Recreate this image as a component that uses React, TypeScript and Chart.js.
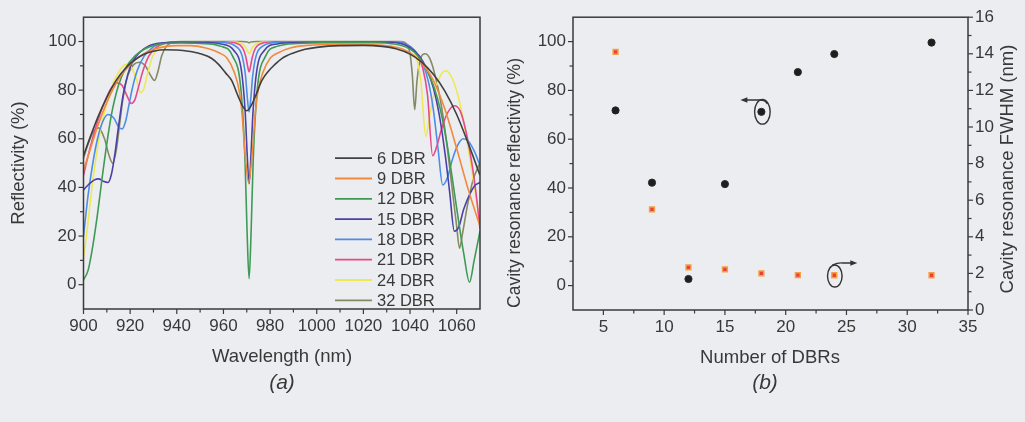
import React, { useEffect, useRef } from "react";
import { Chart, registerables } from "chart.js";
Chart.register(...registerables);

const FONT = '"Liberation Sans", Arial, sans-serif';
const TEXT = "#383838";
const AXIS = "#3a3a3a";

// ---------- Panel (a): reflectivity spectra ----------
const seriesLabels = ["6 DBR", "9 DBR", "12 DBR", "15 DBR", "18 DBR", "21 DBR", "24 DBR", "32 DBR"];
const seriesColors = ["#404040", "#f28a3c", "#3e9a55", "#4a41a8", "#4d8de6", "#e64a8a", "#ece955", "#858a62"];

const dbr6: [number, number][] = [
  [900, 53], [903, 61], [906, 68.5], [910, 77], [914, 84], [918, 89], [922, 92.5], [926, 94.8], [930, 96], [935, 96.6],
  [940, 96.5], [945, 96], [950, 95], [955, 93], [958, 90.5], [961, 87], [963.5, 84], [966.5, 77], [968.5, 73], [970, 71.5],
  [971.5, 73], [973.5, 77], [976.5, 84], [979, 87.5], [982, 90.5], [985, 93], [990, 95.3], [995, 96.8], [1000, 97.6],
  [1010, 98.3], [1020, 98.4], [1028, 98], [1034, 97], [1040, 94.8], [1045, 91.5], [1050, 86.5], [1055, 79.5], [1060, 70],
  [1065, 58], [1070, 45],
];
const dbr9: [number, number][] = [
  [900, 47], [903, 56], [906, 65], [910, 75], [915, 84.5], [920, 90.5], [925, 94.5], [930, 96.8], [935, 97.9], [940, 98.3],
  [946, 98.3], [952, 97.4], [958.5, 95.2], [961.5, 93.2], [964.8, 87], [966.8, 79.5], [968, 70], [969.3, 53.5], [970.8, 42],
  [972.3, 53.5], [973.6, 70], [974.8, 79.5], [976.8, 87], [980.1, 93.2], [983.1, 95.2], [989, 97.4], [996, 98.4],
  [1010, 98.8], [1025, 98.7], [1032, 98], [1037, 96.8], [1042, 94], [1046, 90], [1050, 84], [1055, 72], [1060, 56],
  [1065, 39], [1070, 24],
];
const dbr12: [number, number][] = [
  [900, 2], [902, 6], [904, 16], [906, 29], [908, 44], [910, 58], [912, 70], [915, 82], [918, 89], [922, 94], [926, 96.8],
  [930, 98.4], [935, 99.2], [942, 99.4], [950, 99.2], [959, 98], [964, 93.9], [967.5, 80.2], [969.25, 51.1],
  [970.1, 22.9], [971, 2.5], [971.9, 22.9], [972.75, 51.1], [974.5, 80.2], [978, 93.9], [983, 98], [992, 99.2],
  [1002, 99.5], [1025, 99.5], [1033, 99], [1038, 97.8], [1042, 95.5], [1046, 90.5], [1050, 82], [1053, 72], [1056, 57],
  [1059, 38], [1061, 25], [1063, 13], [1065.5, 1], [1067.5, 10], [1070, 22],
];
const dbr15: [number, number][] = [
  [900, 39], [902, 41], [904.5, 43], [906.5, 43.5], [908.5, 42.5], [910.5, 42], [912, 45.5], [913.5, 54], [915, 65],
  [917, 78], [919, 86.5], [921, 91.5], [924, 95.5], [928, 98.2], [933, 99.4], [940, 99.7], [952, 99.6], [959, 99],
  [964.4, 96.4], [967.7, 88.1], [969.35, 70.6], [970.2, 53.2], [971, 41.5], [971.8, 53.2], [972.65, 70.6], [974.3, 88.1],
  [977.6, 96.4], [983, 99], [992, 99.6], [1030, 99.7], [1036, 99.2], [1040, 97.5], [1044, 94], [1047, 89], [1050, 81],
  [1052.5, 70], [1055, 54], [1057, 38], [1059, 22], [1061, 24], [1063, 31], [1066, 38], [1068, 41], [1070, 42],
];
const dbr18: [number, number][] = [
  [900, 20], [902, 37], [904, 50], [906, 60], [908, 66.5], [910.5, 70], [913, 68.5], [915, 65], [916.5, 64], [918, 67],
  [919.5, 74], [921, 81], [923, 88], [926, 94], [930, 97.8], [935, 99.4], [942, 99.8], [956, 99.8], [961, 99.5],
  [965, 98.2], [968, 94.1], [969.5, 85.5], [970.25, 76.8], [971, 71], [971.75, 76.8], [972.5, 85.5], [974, 94.1],
  [977, 98.2], [981, 99.5], [988, 99.8], [1030, 99.8], [1037, 99.4], [1040, 98], [1043, 95], [1045.5, 91], [1048, 83],
  [1050, 72], [1052, 56], [1054, 41], [1056, 44], [1058, 51], [1060.5, 57.5], [1062.8, 60], [1065, 59], [1067.5, 55],
  [1070, 49],
];
const dbr21: [number, number][] = [
  [900, 45], [903, 57], [906, 67], [909, 75], [912, 81], [914.5, 83], [916.5, 82], [918.5, 78], [920.5, 74.5], [922, 76],
  [923.5, 81], [925.5, 88], [928, 94], [931, 97.5], [935, 99.3], [942, 99.9], [960, 99.9], [965.4, 99.3], [968.2, 97.4],
  [969.6, 93.7], [970.3, 90.2], [971, 87.5], [971.7, 90.2], [972.4, 93.7], [973.8, 97.4], [976.6, 99.3], [982, 99.9],
  [1032, 99.9], [1037, 99.4], [1040, 98], [1043, 95], [1045.5, 89], [1047.5, 78], [1049.7, 53], [1051.5, 57],
  [1053.5, 64], [1056, 70.5], [1059, 73.6], [1061.5, 71.5], [1064, 63], [1066.5, 50], [1068.5, 36], [1070, 23],
];
const dbr24: [number, number][] = [
  [900, 11], [901.5, 22], [903, 35], [905, 50], [907, 62], [909, 71], [911, 78], [913, 83.5], [915.5, 88], [918, 90.5],
  [920.5, 89.5], [922.5, 85], [924.5, 79], [926, 81], [927.5, 87], [929.5, 93.5], [932, 97.5], [935, 99.2], [940, 99.9],
  [963, 99.9], [966, 99.7], [968.2, 98.9], [969.6, 97.5], [970.3, 96.1], [971, 95], [971.7, 96.1], [972.4, 97.5],
  [973.8, 98.9], [976, 99.7], [979, 99.9], [1034, 99.9], [1038, 99], [1040.5, 97.5], [1042.5, 94], [1044.5, 85],
  [1046.8, 61], [1048.5, 70], [1050.5, 79], [1053, 86], [1055.5, 88], [1058, 85], [1060.5, 78], [1063, 67], [1066, 50],
  [1068, 38], [1070, 25],
];
const dbr32: [number, number][] = [
  [900, 52], [902, 58], [904, 62.5], [906.5, 64.5], [909, 60], [911, 53], [912.5, 50], [914, 55], [915.5, 66], [917, 77],
  [919, 86], [921.5, 90.5], [924, 91.5], [926.5, 90], [928.5, 86.5], [930.5, 84], [932, 88], [933.5, 94], [935.5, 98],
  [938, 99.6], [942, 100], [968, 100], [970.3, 99.8], [971, 99.5], [971.7, 99.8], [974, 100], [1036, 100], [1038.5, 99],
  [1040, 95], [1041, 86], [1042, 72], [1043, 84], [1044.5, 93], [1046.5, 95], [1048.5, 93], [1050.5, 87], [1053, 76],
  [1055.5, 60], [1058, 40], [1060, 24], [1061.2, 15], [1062.5, 21], [1064.5, 32], [1067, 43], [1070, 50],
];
const spectra = [dbr6, dbr9, dbr12, dbr15, dbr18, dbr21, dbr24, dbr32];
const wavelengthTicks = [900, 920, 940, 960, 980, 1000, 1020, 1040, 1060];
const reflectivityTicks = [0, 20, 40, 60, 80, 100];

// ---------- Panel (b): resonance vs number of DBRs ----------
const dbrCounts = [6, 9, 12, 15, 18, 21, 24, 32];
const resonanceReflectivity = [71.8, 42.2, 2.7, 41.6, 71.2, 87.5, 94.9, 99.6];
const resonanceFwhm = [14.1, 5.5, 2.33, 2.22, 2.0, 1.91, 1.9, 1.9];
const dbrTicks = [5, 10, 15, 20, 25, 30, 35];
const fwhmTicks = [0, 2, 4, 6, 8, 10, 12, 14, 16];

const mids = (a: number[]) => a.slice(1).map((v, i) => (v + a[i]) / 2);
const plain = (v: any) => `${v}`;

type TickSpec = { id: string; side: "left" | "right" | "bottom"; major: number[]; minor: number[] };
function framePlugin(specs: TickSpec[]) {
  return {
    id: "frameTicks",
    afterDraw(chart: any) {
      const { ctx, chartArea: a } = chart;
      ctx.save();
      ctx.strokeStyle = AXIS;
      ctx.lineWidth = 1.5;
      ctx.strokeRect(a.left, a.top, a.right - a.left, a.bottom - a.top);
      ctx.lineWidth = 1.2;
      for (const s of specs) {
        const sc = chart.scales[s.id];
        const draw = (v: number, len: number) => {
          const p = sc.getPixelForValue(v);
          ctx.beginPath();
          if (s.side === "bottom") { ctx.moveTo(p, a.bottom); ctx.lineTo(p, a.bottom + len); }
          else if (s.side === "left") { ctx.moveTo(a.left, p); ctx.lineTo(a.left - len, p); }
          else { ctx.moveTo(a.right, p); ctx.lineTo(a.right + len, p); }
          ctx.stroke();
        };
        s.major.forEach((v) => draw(v, 5));
        s.minor.forEach((v) => draw(v, 3.5));
      }
      ctx.restore();
    },
  };
}

type TitleSpec = { text: string; x: number; y: number; rot: number; size: number };
function titlesPlugin(items: TitleSpec[]) {
  return {
    id: "axisTitles",
    afterDraw(chart: any) {
      const ctx = chart.ctx;
      ctx.save();
      ctx.fillStyle = TEXT;
      ctx.textAlign = "center";
      ctx.textBaseline = "middle";
      for (const t of items) {
        ctx.save();
        ctx.font = `${t.size}px ${FONT}`;
        ctx.translate(t.x, t.y);
        ctx.rotate(t.rot);
        ctx.fillText(t.text, 0, 0);
        ctx.restore();
      }
      ctx.restore();
    },
  };
}

const legendPlugin = {
  id: "insideLegend",
  afterDraw(chart: any) {
    const { ctx, chartArea: a } = chart;
    ctx.save();
    ctx.font = `16.5px ${FONT}`;
    ctx.textBaseline = "middle";
    ctx.textAlign = "left";
    chart.data.datasets.forEach((ds: any, i: number) => {
      const y = a.top + 141 + i * 20.3;
      const x0 = a.right - 145;
      ctx.strokeStyle = ds.borderColor;
      ctx.lineWidth = 1.8;
      ctx.beginPath();
      ctx.moveTo(x0, y);
      ctx.lineTo(x0 + 37, y);
      ctx.stroke();
      ctx.fillStyle = TEXT;
      ctx.fillText(ds.label, x0 + 42, y + 1);
    });
    ctx.restore();
  },
};

const annotatePlugin = {
  id: "loops",
  afterDatasetsDraw(chart: any) {
    const { ctx, scales } = chart;
    const i18 = dbrCounts.indexOf(18);
    const i24 = dbrCounts.indexOf(24);
    ctx.save();
    ctx.strokeStyle = "#333";
    ctx.fillStyle = "#333";
    ctx.lineWidth = 1.4;
    // left-pointing loop (reflectivity axis)
    let cx = scales.x.getPixelForValue(dbrCounts[i18]);
    let cy = scales.y.getPixelForValue(resonanceReflectivity[i18]);
    ctx.beginPath();
    ctx.ellipse(cx + 1, cy, 7.8, 12.3, 0, 0, Math.PI * 2);
    ctx.stroke();
    ctx.beginPath();
    ctx.moveTo(cx + 6, cy - 8);
    ctx.quadraticCurveTo(cx + 4, cy - 12, cx - 2, cy - 11.8);
    ctx.lineTo(cx - 15, cy - 11.8);
    ctx.stroke();
    ctx.beginPath();
    ctx.moveTo(cx - 21, cy - 11.8);
    ctx.lineTo(cx - 14, cy - 14.5);
    ctx.lineTo(cx - 14, cy - 9.1);
    ctx.closePath();
    ctx.fill();
    // right-pointing loop (FWHM axis)
    cx = scales.x.getPixelForValue(dbrCounts[i24]);
    cy = scales.y2.getPixelForValue(resonanceFwhm[i24]);
    ctx.beginPath();
    ctx.ellipse(cx + 0.5, cy + 0.8, 7.3, 11, 0, 0, Math.PI * 2);
    ctx.stroke();
    ctx.beginPath();
    ctx.moveTo(cx - 2, cy - 10);
    ctx.quadraticCurveTo(cx + 3, cy - 12.5, cx + 8, cy - 12.3);
    ctx.lineTo(cx + 17, cy - 12.3);
    ctx.stroke();
    ctx.beginPath();
    ctx.moveTo(cx + 23, cy - 12.3);
    ctx.lineTo(cx + 16, cy - 15);
    ctx.lineTo(cx + 16, cy - 9.6);
    ctx.closePath();
    ctx.fill();
    ctx.restore();
  },
};

const tickFont = { family: FONT, size: 17 };

export default function App() {
  const refA = useRef<HTMLCanvasElement>(null);
  const refB = useRef<HTMLCanvasElement>(null);

  useEffect(() => {
    const chartA = new Chart(refA.current as HTMLCanvasElement, {
      type: "line",
      data: {
        datasets: spectra.map((s, i) => ({
          label: seriesLabels[i],
          data: s.map(([x, y]) => ({ x, y })),
          borderColor: seriesColors[i],
          backgroundColor: seriesColors[i],
          borderWidth: 1.6,
          pointRadius: 0,
          cubicInterpolationMode: "monotone" as const,
          fill: false,
        })),
      },
      options: {
        animation: false,
        responsive: false,
        maintainAspectRatio: false,
        layout: { padding: { left: 0, right: 20, top: 13, bottom: 0 } },
        plugins: { legend: { display: false }, tooltip: { enabled: false } },
        scales: {
          x: {
            type: "linear",
            min: 900,
            max: 1070,
            afterFit: (s: any) => { s.height = 66; },
            afterBuildTicks: (s: any) => { s.ticks = wavelengthTicks.map((v) => ({ value: v })); },
            grid: { display: false, drawTicks: false, tickLength: 0 },
            border: { display: false },
            ticks: { padding: 7, autoSkip: false, maxRotation: 0, font: tickFont, color: TEXT, callback: plain },
          },
          y: {
            type: "linear",
            min: -10,
            max: 110,
            afterFit: (s: any) => { s.width = 83.5; },
            afterBuildTicks: (s: any) => { s.ticks = reflectivityTicks.map((v) => ({ value: v })); },
            grid: { display: false, drawTicks: false, tickLength: 0 },
            border: { display: false },
            ticks: { padding: 7, autoSkip: false, font: tickFont, color: TEXT, callback: plain },
          },
        },
      },
      plugins: [
        framePlugin([
          { id: "x", side: "bottom", major: wavelengthTicks, minor: mids(wavelengthTicks) },
          { id: "y", side: "left", major: reflectivityTicks, minor: mids(reflectivityTicks) },
        ]),
        legendPlugin,
        titlesPlugin([
          { text: "Reflectivity (%)", x: 19, y: 163, rot: -Math.PI / 2, size: 18.5 },
          { text: "Wavelength (nm)", x: 282, y: 357, rot: 0, size: 18.5 },
        ]),
      ],
    } as any);

    const chartB = new Chart(refB.current as HTMLCanvasElement, {
      type: "scatter",
      data: {
        datasets: [
          {
            label: "Cavity resonance reflectivity",
            data: dbrCounts.map((x, i) => ({ x, y: resonanceReflectivity[i] })),
            yAxisID: "y",
            pointStyle: "circle",
            pointRadius: 3.6,
            backgroundColor: "#1e1e1e",
            borderColor: "#2a2a2a",
            borderWidth: 1,
          },
          {
            label: "Cavity resonance FWHM",
            data: dbrCounts.map((x, i) => ({ x, y: resonanceFwhm[i] })),
            yAxisID: "y2",
            pointStyle: "rect",
            pointRadius: 3.4,
            backgroundColor: "#e8413a",
            borderColor: "#f4a046",
            borderWidth: 1.5,
          },
        ],
      },
      options: {
        animation: false,
        responsive: false,
        maintainAspectRatio: false,
        layout: { padding: { left: 0, right: 0, top: 12, bottom: 0 } },
        plugins: { legend: { display: false }, tooltip: { enabled: false } },
        scales: {
          x: {
            type: "linear",
            min: 2.5,
            max: 35,
            afterFit: (s: any) => { s.height = 65; },
            afterBuildTicks: (s: any) => { s.ticks = dbrTicks.map((v) => ({ value: v })); },
            grid: { display: false, drawTicks: false, tickLength: 0 },
            border: { display: false },
            ticks: { padding: 7, autoSkip: false, maxRotation: 0, font: tickFont, color: TEXT, callback: plain },
          },
          y: {
            type: "linear",
            position: "left",
            min: -10,
            max: 110,
            afterFit: (s: any) => { s.width = 73; },
            afterBuildTicks: (s: any) => { s.ticks = reflectivityTicks.map((v) => ({ value: v })); },
            grid: { display: false, drawTicks: false, tickLength: 0 },
            border: { display: false },
            ticks: { padding: 7, autoSkip: false, font: tickFont, color: TEXT, callback: plain },
          },
          y2: {
            type: "linear",
            position: "right",
            min: 0,
            max: 16,
            afterFit: (s: any) => { s.width = 57; },
            afterBuildTicks: (s: any) => { s.ticks = fwhmTicks.map((v) => ({ value: v })); },
            grid: { display: false, drawTicks: false, tickLength: 0 },
            border: { display: false },
            ticks: { padding: 7, autoSkip: false, font: tickFont, color: TEXT, callback: plain },
          },
        },
      },
      plugins: [
        framePlugin([
          { id: "x", side: "bottom", major: dbrTicks, minor: mids(dbrTicks) },
          { id: "y", side: "left", major: reflectivityTicks, minor: mids(reflectivityTicks) },
          { id: "y2", side: "right", major: fwhmTicks, minor: mids(fwhmTicks) },
        ]),
        annotatePlugin,
        titlesPlugin([
          { text: "Cavity resonance reflectivity (%)", x: 15, y: 183, rot: -Math.PI / 2, size: 17.5 },
          { text: "Cavity resonance FWHM (nm)", x: 508, y: 169, rot: -Math.PI / 2, size: 18.5 },
          { text: "Number of DBRs", x: 270, y: 358, rot: 0, size: 18.5 },
        ]),
      ],
    } as any);

    return () => {
      chartA.destroy();
      chartB.destroy();
    };
  }, []);

  const panelLabel: React.CSSProperties = {
    position: "absolute",
    top: 382,
    transform: "translate(-50%, -50%)",
    fontFamily: FONT,
    fontStyle: "italic",
    fontSize: 21,
    color: TEXT,
    whiteSpace: "nowrap",
  };

  return (
    <div
      style={{
        position: "absolute",
        left: 0,
        top: 0,
        width: 1025,
        height: 422,
        background: "#ecedf0",
        overflow: "hidden",
      }}
    >
      <canvas ref={refA} width={500} height={375} style={{ position: "absolute", left: 0, top: 0, width: 500, height: 375 }} />
      <canvas ref={refB} width={525} height={375} style={{ position: "absolute", left: 500, top: 0, width: 525, height: 375 }} />
      <div style={{ ...panelLabel, left: 282 }}>(a)</div>
      <div style={{ ...panelLabel, left: 765 }}>(b)</div>
    </div>
  );
}
